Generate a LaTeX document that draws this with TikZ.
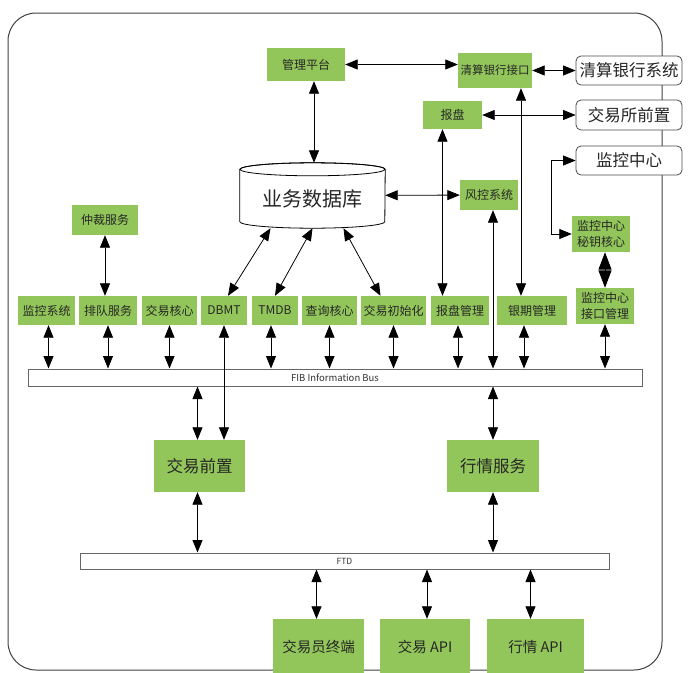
\documentclass[tikz,border=0pt]{standalone}
\usepackage{fontspec}
\setmainfont{Noto Sans CJK SC}
\usetikzlibrary{arrows.meta}
\definecolor{boxgreen}{RGB}{146,198,90}

\begin{document}
\begin{tikzpicture}[x=1pt,y=-1pt,
    sz/.style 2 args={minimum width=#1pt,minimum height=#2pt},
    gbox/.style={fill=boxgreen,inner sep=0pt,align=center,text=black!85,font=\fontsize{12}{16}\selectfont},
    wbox/.style={draw=black!70,line width=0.8pt,rounded corners=5pt,fill=white,inner sep=0pt,text=black!85,font=\fontsize{16.5}{20}\selectfont},
    bus/.style={draw=black!60,line width=1pt,fill=white,inner sep=0pt,text=black!80},
    biarrow/.style={{Triangle[length=12.5pt,width=10pt]}-{Triangle[length=12.5pt,width=10pt]},line width=0.8pt}]

\useasboundingbox (0,0) rectangle (693,672);
\draw[black!75,line width=1pt,rounded corners=28pt] (8,13) rectangle (662,670);

\node[gbox,sz={78}{33}] (mgmt) at (306,64.5) {管理平台};
\node[gbox,sz={74}{35},font=\fontsize{11.5}{14}\selectfont] (clrif) at (495,70.5) {清算银行接口};
\node[wbox,sz={106}{29}] (clrsys) at (629,70.5) {清算银行系统};
\node[gbox,sz={59}{28}] (bp) at (452.5,115) {报盘};
\node[wbox,sz={106}{30}] (exfront) at (629,115) {交易所前置};
\node[wbox,sz={106}{29}] (monc) at (629,160.5) {监控中心};
\node[inner sep=0pt,sz={145}{65},font=\fontsize{20}{24}\selectfont,text=black!85] (db) at (312.5,195.5) {};
\draw[fill=white,line width=0.8pt] ([yshift=-6.5pt]db.north west) -- ([yshift=6.5pt]db.south west)
    arc[start angle=180,end angle=360,x radius=72.5pt,y radius=6.5pt] -- ([yshift=-6.5pt]db.north east)
    arc[start angle=0,end angle=180,x radius=72.5pt,y radius=6.5pt] -- cycle;
\draw[line width=0.8pt] ([yshift=-6.5pt]db.north) ellipse[x radius=72.5pt,y radius=6.5pt];
\node[font=\fontsize{20}{24}\selectfont,text=black!85] at ([yshift=-3pt]db.center) {业务数据库};
\node[gbox,sz={58}{30}] (risk) at (489,195) {风控系统};
\node[gbox,sz={66}{30}] (arb) at (105,220) {仲裁服务};
\node[gbox,sz={58}{36}] (keycore) at (601,234) {监控中心\\秘钥核心};

\node[gbox,sz={57}{29}] (r1) at (46.5,310.5) {监控系统};
\node[gbox,sz={58}{29}] (r2) at (108,310.5) {排队服务};
\node[gbox,sz={55}{29}] (r3) at (169.5,310.5) {交易核心};
\node[gbox,sz={46}{29}] (r4) at (224,310.5) {DBMT};
\node[gbox,sz={46}{29}] (r5) at (275,310.5) {TMDB};
\node[gbox,sz={55}{29}] (r6) at (329.5,310.5) {查询核心};
\node[gbox,sz={65}{29}] (r7) at (393.5,310.5) {交易初始化};
\node[gbox,sz={58}{29}] (r8) at (460,310.5) {报盘管理};
\node[gbox,sz={70}{29}] (r9) at (532,310.5) {银期管理};
\node[gbox,sz={58}{36}] (r10) at (605,306) {监控中心\\接口管理};

\node[bus,sz={614}{17},font=\fontsize{9.5}{11}\selectfont] (fib) at (335,377.5) {FIB Information Bus};
\node[gbox,sz={91}{52},font=\fontsize{16.5}{20}\selectfont] (tfront) at (199.5,466) {交易前置};
\node[gbox,sz={92}{52},font=\fontsize{16.5}{20}\selectfont] (mkt) at (493,466) {行情服务};
\node[bus,sz={529}{16},font=\fontsize{8.5}{10}\selectfont] (ftd) at (344.5,561) {FTD};
\node[gbox,sz={91}{56},font=\fontsize{14.5}{18}\selectfont] (term) at (318.5,647) {交易员终端};
\node[gbox,sz={90}{56},font=\fontsize{14.5}{18}\selectfont] (tapi) at (425,647) {交易 API};
\node[gbox,sz={97}{56},font=\fontsize{14.5}{18}\selectfont] (mapi) at (535.5,647) {行情 API};

\draw[biarrow] (mgmt.east) -- (mgmt.east -| clrif.west);
\draw[biarrow] (clrif) -- (clrsys);
\draw[biarrow] (bp) -- (exfront);
\draw[biarrow] ([xshift=8pt]mgmt.south) -- ([xshift=8pt]mgmt.south |- db.north);
\draw[biarrow] (db) -- (risk);
\draw[biarrow] ([xshift=-10pt]bp.south) -- ([xshift=-10pt]bp.south |- r8.north);
\draw[biarrow] ([xshift=26pt]clrif.south) -- ([xshift=26pt]clrif.south |- r9.north);
\draw[biarrow] ([xshift=4pt]risk.south) -- ([xshift=4pt]risk.south |- fib.north);
\draw[biarrow] (monc.west) -| ([xshift=-20pt]keycore.west) -- (keycore.west);
\draw[{Triangle[length=17.5pt,width=13pt]}-{Triangle[length=17.5pt,width=13pt]},line width=1pt] (r10.north) -- (r10.north |- keycore.south);
\draw[biarrow] (arb.south) -- (arb.south |- r2.north);
\draw[biarrow] ([xshift=-42pt]db.south) -- ([xshift=4pt]r4.north);
\draw[biarrow] (db.south) -- (r5.north);
\draw[biarrow] ([xshift=31pt]db.south) -- ([xshift=-13pt]r7.north);

\draw[biarrow] ([xshift=2pt]r1.south) -- ([xshift=2pt]r1.south |- fib.north);
\draw[biarrow] (r2.south) -- (r2.south |- fib.north);
\draw[biarrow] (r3.south) -- (r3.south |- fib.north);
\draw[biarrow] ([xshift=-4pt]r5.south) -- ([xshift=-4pt]r5.south |- fib.north);
\draw[biarrow] (r6.south) -- (r6.south |- fib.north);
\draw[biarrow] (r7.south) -- (r7.south |- fib.north);
\draw[biarrow] ([xshift=-2pt]r8.south) -- ([xshift=-2pt]r8.south |- fib.north);
\draw[biarrow] ([xshift=-8pt]r9.south) -- ([xshift=-8pt]r9.south |- fib.north);
\draw[biarrow] (r10.south) -- (r10.south |- fib.north);
\draw[biarrow] (r4.south) -- (r4.south |- tfront.north);

\draw[biarrow] ([xshift=-2pt]tfront.north |- fib.south) -- ([xshift=-2pt]tfront.north);
\draw[biarrow] (mkt.north |- fib.south) -- (mkt.north);
\draw[biarrow] ([xshift=-2pt]tfront.south) -- ([xshift=-2pt]tfront.south |- ftd.north);
\draw[biarrow] (mkt.south) -- (mkt.south |- ftd.north);
\draw[biarrow] ([xshift=-2pt]term.north |- ftd.south) -- ([xshift=-2pt]term.north);
\draw[biarrow] ([xshift=2pt]tapi.north |- ftd.south) -- ([xshift=2pt]tapi.north);
\draw[biarrow] ([xshift=-5pt]mapi.north |- ftd.south) -- ([xshift=-5pt]mapi.north);
\end{tikzpicture}
\end{document}
